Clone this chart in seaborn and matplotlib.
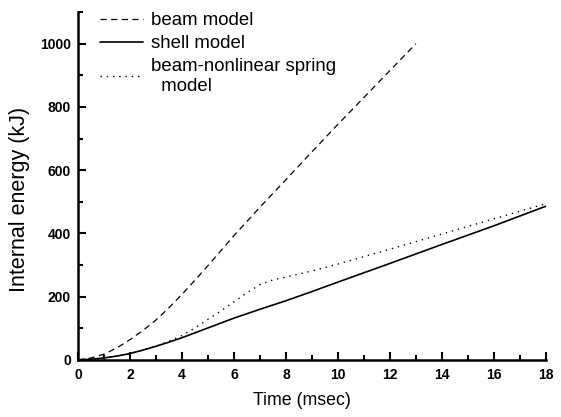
import matplotlib
matplotlib.use("Agg")
import matplotlib.pyplot as plt
from matplotlib.ticker import MultipleLocator
import seaborn as sns

# beam model (dashed)
beam_t = [0, 0.5, 1, 1.5, 2, 2.5, 3, 3.5, 4, 4.5, 5, 6, 7, 8, 9, 10, 11, 12, 13]
beam_e = [0, 6, 18, 38, 64, 93, 126, 165, 207, 252, 298, 393, 483, 570, 658, 745, 830, 915, 1000]

# shell model (solid)
shell_t = [0, 0.5, 1, 1.5, 2, 2.5, 3, 3.5, 4, 5, 6, 7, 8, 9, 10, 12, 14, 16, 18]
shell_e = [0, 2, 6, 12, 20, 31, 43, 56, 70, 101, 132, 160, 187, 216, 246, 305, 365, 424, 486]

# beam-nonlinear spring model (dotted)
spring_t = [0, 0.5, 1, 1.5, 2, 2.5, 3, 3.5, 4, 4.5, 5, 5.5, 6, 6.5, 7, 7.5, 8, 9, 10, 12, 14, 16, 18]
spring_e = [0, 2, 6, 12, 20, 31, 43, 59, 77, 101, 128, 155, 183, 212, 238, 253, 262, 281, 303, 350, 398, 446, 494]

sns.set_style("ticks")
plt.rcParams['font.family'] = ['Liberation Sans', 'DejaVu Sans']
plt.rcParams['text.color'] = 'black'
plt.rcParams['axes.labelcolor'] = 'black'
plt.rcParams['xtick.color'] = 'black'
plt.rcParams['ytick.color'] = 'black'
plt.rcParams['axes.edgecolor'] = 'black'

fig = plt.figure(figsize=(5.61, 4.17), dpi=100)
ax = fig.add_axes([0.139, 0.137, 0.834, 0.834])

sns.lineplot(x=beam_t, y=beam_e, ax=ax, color='black', lw=0.9,
             linestyle=(0, (5, 3.5)), label='beam model')
sns.lineplot(x=shell_t, y=shell_e, ax=ax, color='black', lw=1.2,
             linestyle='-', label='shell model')
sns.lineplot(x=spring_t, y=spring_e, ax=ax, color='black', lw=1.0,
             linestyle=(0, (1, 3.5)), label='beam-nonlinear spring\n  model')

ax.set_xlim(0, 18)
ax.set_ylim(0, 1100)
ax.xaxis.set_major_locator(MultipleLocator(2))
ax.xaxis.set_minor_locator(MultipleLocator(1))
ax.yaxis.set_minor_locator(MultipleLocator(100))
ax.set_yticks([0, 200, 400, 600, 800, 1000])

sns.despine(ax=ax)
for s in ['left', 'bottom']:
    ax.spines[s].set_linewidth(1.8)
ax.tick_params(which='major', direction='in', length=6, width=1.5, labelsize=10)
ax.tick_params(axis='y', which='major', pad=5)
ax.tick_params(axis='x', which='major', pad=6)
ax.tick_params(which='minor', direction='in', length=3.5, width=1.5)
for lbl in ax.get_xticklabels() + ax.get_yticklabels():
    lbl.set_fontweight('bold')

ax.set_xlabel('Time (msec)', fontsize=12.8)
ax.set_ylabel('Internal energy (kJ)', fontsize=15.5)
ax.xaxis.set_label_coords(0.479, -0.092)
ax.yaxis.set_label_coords(-0.103, 0.46)

leg = ax.legend(loc='upper left', frameon=False, fontsize=13.4, handlelength=2.3,
                handletextpad=0.4, labelspacing=0.32, borderaxespad=0.0,
                borderpad=0.0, bbox_to_anchor=(0.048, 1.0))

fig.savefig('out.png', dpi=100)
